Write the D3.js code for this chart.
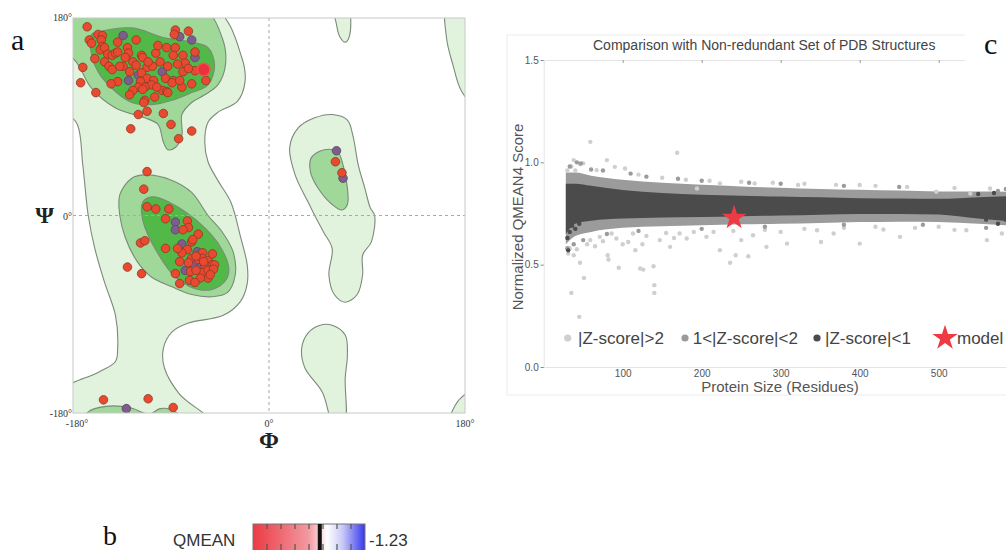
<!DOCTYPE html>
<meta charset="utf-8">
<script src="https://d3js.org/d3.v7.min.js"></script>
<style>
  body { margin: 0; background: #fff; }
  svg { display: block; }
</style>
<svg id="fig" width="1006" height="550"></svg>
<script>

// ---------- panel a : Ramachandran plot (phi, psi in degrees) ----------

// favoured / allowed region outlines
const lightLeft = [[-190,190],[-51,190],[-25,144],[-22,122],[-29,104],[-47,94],[-56,85],[-59,67],[-56,49],[-47,32],[-35,12],[-26,-20],[-20,-45],[-20,-62],[-26,-78],[-42,-91],[-74,-98],[-89,-106],[-97,-121],[-96,-139],[-82,-163],[-52,-190],[-190,-190],[-190,-160],[-157,-143],[-141,-133],[-139,-121],[-141,-91],[-151,-61],[-160,-30],[-166,0],[-171,46],[-176,83],[-190,100]];
const lightAlphaL = [[58,92],[72,87],[77,73],[82,46],[88,25],[93,7],[97,0],[94,-24],[86,-36],[86,-54],[81,-72],[70,-79],[60,-72],[55,-54],[58,-30],[50,-15],[42,0],[36,12],[24,37],[19,62],[27,80],[42,89]];
const lightTopSmall = [[60,192],[72,192],[74,164],[70,158],[65,163],[62,174]];
const lightTopRight = [[164,192],[163,162],[169,137],[177,113],[192,98],[192,192]];
const lightBottom = [[58,-100],[70,-109],[72,-127],[70,-148],[69,-192],[60,-192],[49,-161],[33,-139],[30,-121],[36,-107],[47,-100]];
const lightBottomRight = [[166,-192],[171,-173],[180,-163],[192,-158],[192,-192]];

const midTopLeft = [[-190,190],[-62,190],[-43,162],[-40,137],[-47,119],[-59,110],[-71,103],[-80,92],[-80,73],[-86,62],[-93,60],[-97,67],[-102,83],[-114,89],[-141,98],[-163,116],[-175,137],[-190,158]];
const midMiddle = [[-114,37],[-89,32],[-71,21],[-56,0],[-43,-15],[-33,-33],[-31,-54],[-38,-70],[-52,-74],[-71,-72],[-89,-65],[-108,-56],[-121,-42],[-132,-20],[-137,0],[-137,19],[-126,34]];
const midBottom = [[-172,-192],[-166,-179],[-150,-174],[-128,-175],[-110,-181],[-100,-176],[-90,-177],[-80,-184],[-76,-192]];
const midAlphaL = [[51,60],[63,58],[68,46],[72,25],[72,10],[67,5],[58,10],[45,25],[38,40],[39,53]];

const darkTopLeft = [[-158,167],[-126,171],[-96,162],[-71,158],[-56,153],[-50,137],[-56,119],[-71,112],[-89,105],[-108,101],[-126,103],[-141,113],[-157,131],[-164,153],[-163,165]];
const darkMiddle = [[-107,17],[-75,2],[-45,-28],[-37,-52],[-45,-64],[-62,-68],[-85,-57],[-103,-33],[-116,-4],[-116,12]];

// residues
const residuesGeneral = [[-167,172],[-157,165],[-153,164],[-165,160],[-163,157],[-154,160],[-153,154],[-155,151],[-151,153],[-139,158],[-122,160],[-148,147],[-144,146],[-141,148],[-139,149],[-130,153],[-129,148],[-160,143],[-151,140],[-147,136],[-171,135],[-132,144],[-134,136],[-125,140],[-122,137],[-117,146],[-116,144],[-112,135],[-107,136],[-117,130],[-104,148],[-102,155],[-94,153],[-86,153],[-79,146],[-88,146],[-86,169],[-87,165],[-74,168],[-68,149],[-77,139],[-79,131],[-68,132],[-95,125],[-88,123],[-89,121],[-112,125],[-106,123],[-108,119],[-139,122],[-145,120],[-118,122],[-120,117],[-114,117],[-116,115],[-125,114],[-98,114],[-94,113],[-93,112],[-80,117],[-71,120],[-58,123],[-173,121],[-159,112],[-114,105],[-115,103],[-120,92],[-112,95],[-97,93],[-90,83],[-127,79],[-71,77],[-83,70],[-144,133],[-137,136],[-128,131],[-111,140],[-100,140],[-93,136],[-84,138],[-74,134],[-82,123],[-128,110],[-103,117],[-105,108],
  [-112,40],[-115,24],[-112,8],[-104,6],[-92,6],[-95,-3],[-75,-5],[-74,-11],[-79,-13],[-65,-17],[-71,-24],[-70,-22],[-118,-25],[-114,-23],[-95,-30],[-75,-31],[-80,-34],[-61,-34],[-71,-39],[-65,-40],[-61,-39],[-56,-41],[-52,-35],[-74,-43],[-59,-45],[-52,-45],[-50,-45],[-72,-51],[-61,-52],[-56,-50],[-51,-49],[-130,-47],[-117,-53],[-86,-53],[-73,-59],[-56,-57],[-67,-37],[-60,-42],[-67,-50],[-82,-42],[-84,-30],[-54,-54],[-63,-57],[-68,-61],[-82,-62],
  [-152,-168],[-111,-167],[-88,-175],[61,49],[67,39]];
const residuesGly = [[-134,164],[-82,163],[-71,160],[-68,144],[-98,131],[-120,128],[-129,123],[-86,-6],[-86,-13],[-80,-26],[-66,-33],[-70,-45],[-63,-47],[-77,-50],[-131,-176],[62,59],[68,34]];
const residueHighlight = [[-60,133]];

const angleTicks = [-180, 0, 180];

// ---------- panel b : QMEAN slider ----------
const qmeanTicks = [-5, -4, -3, -2, -1, 0, 1];
const qmeanValue = -1.23;

// ---------- panel c : QMEAN4 vs protein size ----------
const sizeGrid   = [28, 40, 60, 100, 150, 200, 250, 300, 350, 400, 450, 500, 550, 595];
const band2Upper = [0.95, 0.95, 0.935, 0.915, 0.900, 0.890, 0.882, 0.876, 0.870, 0.866, 0.862, 0.858, 0.858, 0.855];
const band1Upper = [0.895, 0.895, 0.885, 0.865, 0.850, 0.842, 0.837, 0.833, 0.829, 0.825, 0.823, 0.822, 0.830, 0.835];
const band1Lower = [0.650, 0.700, 0.715, 0.725, 0.730, 0.733, 0.737, 0.740, 0.744, 0.748, 0.748, 0.745, 0.725, 0.710];
const band2Lower = [0.600, 0.640, 0.660, 0.680, 0.688, 0.693, 0.697, 0.700, 0.704, 0.708, 0.710, 0.708, 0.700, 0.690];

const outliersZ2 = [[59,1.10],[169,1.047],[45,0.245],[35,0.362],[51,0.435],[46,0.509],[140,0.40],[140,0.362],[126,0.476],[122,0.481],[95,0.485],[81,0.546],[82,0.525],[139,0.492],[236,0.509],[243,0.546],[259,0.541],[282,0.587],[400,0.603],[561,0.62],[580,0.652],[351,0.611],[308,0.603],[223,0.571],[160,0.587],[116,0.571],[107,0.611],[71,0.636],[31,0.554],[38,0.546],[400,0.889],[497,0.856],[322,0.889],[267,0.897],[223,0.897],[194,0.872],[90,0.978],[80,1.011],[50,0.995],[67,0.962],[103,0.97],[38,1.011],[46,0.991],[451,0.636],[367,0.652],[265,0.644],[181,0.628],[147,0.62],[346,0.668],[430,0.672],[535,0.668],[540,0.848],[565,0.872],[172,0.652],[206,0.636],[86,0.652],[113,0.652],[59,0.62],
  [55,0.60],[65,0.59],[75,0.615],[92,0.628],[100,0.60],[130,0.64],[155,0.655],[190,0.66],[215,0.66],[240,0.665],[280,0.67],[300,0.66],[330,0.675],[380,0.68],[420,0.685],[470,0.68],[500,0.685],[520,0.67],[33,0.58],[42,0.575],[125,0.60],[165,0.63],[250,0.62],[35,0.98],[40,0.96],[30,0.96],
  [120,0.94],[150,0.925],[180,0.915],[210,0.91],[250,0.905],[290,0.9],[330,0.895],[370,0.89],[420,0.885],[460,0.88],[520,0.875]];
const outliersZ12 = [[33,0.98],[42,1.0],[47,0.995],[60,0.965],[75,0.96],[110,0.945],[130,0.93],[170,0.92],[200,0.91],[260,0.9],[300,0.895],[380,0.885],[450,0.88],[30,0.58],[38,0.6],[50,0.62],[80,0.65],[120,0.665],[200,0.675],[280,0.685],[380,0.695],[480,0.695],[560,0.68],[575,0.86],[585,0.87]];
const outliersZ1 = [[30,0.63],[33,0.66],[36,0.69],[31,0.57],[40,0.675],[45,0.70],[560,0.72],[575,0.70],[585,0.72],[590,0.70],[550,0.845],[570,0.85]];
const modelPoint = [241, 0.729];
const sizeTicks = [100, 200, 300, 400, 500];
const scoreTicks = [0, 0.5, 1.0, 1.5];
const legendItems = ["|Z-score|>2", "1<|Z-score|<2", "|Z-score|<1", "model"];

const svg = d3.select("#fig");
const serif = "'Liberation Serif', 'DejaVu Serif', serif";
const sans = "'Liberation Sans', Arial, sans-serif";

svg.append("rect").attr("width", 1006).attr("height", 550).attr("fill", "#fff");

// ======================= panel a =======================
const phi = d3.scaleLinear().domain([-180, 180]).range([73, 465]);
const psi = d3.scaleLinear().domain([-180, 180]).range([413, 18]);

svg.append("clipPath").attr("id", "clipA")
  .append("rect").attr("x", 73).attr("y", 18).attr("width", 392).attr("height", 395);

const gA = svg.append("g");
const plotA = gA.append("g").attr("clip-path", "url(#clipA)");

const contourLine = d3.line()
  .x(d => phi(d[0]))
  .y(d => psi(d[1]))
  .curve(d3.curveCatmullRomClosed.alpha(0.5));

const regions = [
  { shapes: [lightLeft, lightAlphaL, lightTopSmall, lightTopRight, lightBottom, lightBottomRight], fill: "#e1f3dc" },
  { shapes: [midTopLeft, midMiddle, midBottom, midAlphaL], fill: "#9fd898" },
  { shapes: [darkTopLeft, darkMiddle], fill: "#52b948" }
];

regions.forEach(r => {
  plotA.append("g").selectAll("path")
    .data(r.shapes)
    .join("path")
      .attr("d", contourLine)
      .attr("fill", r.fill)
      .attr("stroke", "#7b8a7a")
      .attr("stroke-width", 1.1);
});

// dashed zero lines
plotA.append("line")
  .attr("x1", phi(0)).attr("x2", phi(0)).attr("y1", psi(180)).attr("y2", psi(-180))
  .attr("stroke", "#a8a8a8").attr("stroke-dasharray", "3,3");
plotA.append("line")
  .attr("x1", phi(-180)).attr("x2", phi(180)).attr("y1", psi(0)).attr("y2", psi(0))
  .attr("stroke", "#a8a8a8").attr("stroke-dasharray", "3,3");

// residues
plotA.append("g").selectAll("circle")
  .data(residuesGly)
  .join("circle")
    .attr("cx", d => phi(d[0]))
    .attr("cy", d => psi(d[1]))
    .attr("r", 4.3)
    .attr("fill", "#7d5c8e")
    .attr("stroke", "#5a4560")
    .attr("stroke-width", 0.8);

plotA.append("g").selectAll("circle")
  .data(residuesGeneral)
  .join("circle")
    .attr("cx", d => phi(d[0]))
    .attr("cy", d => psi(d[1]))
    .attr("r", 4.3)
    .attr("fill", "#e8492f")
    .attr("stroke", "#8a3a28")
    .attr("stroke-width", 0.8);

plotA.append("g").selectAll("circle")
  .data(residueHighlight)
  .join("circle")
    .attr("cx", d => phi(d[0]))
    .attr("cy", d => psi(d[1]))
    .attr("r", 6.3)
    .attr("fill", "#e8323c")
    .attr("stroke", "#ff4a55")
    .attr("stroke-width", 1.5);

gA.append("rect")
  .attr("x", 73).attr("y", 18).attr("width", 392).attr("height", 395)
  .attr("fill", "none").attr("stroke", "#c8c8c8");

// angle labels
gA.selectAll(".phiTick")
  .data(angleTicks)
  .join("text")
    .attr("x", d => phi(d) + (d < 0 ? 4 : 0))
    .attr("y", 427)
    .attr("text-anchor", "middle")
    .style("font-family", serif).style("font-size", "10px").attr("fill", "#333")
    .text(d => d + "°");

gA.selectAll(".psiTick")
  .data(angleTicks)
  .join("text")
    .attr("x", 72)
    .attr("y", d => psi(d) + (d === 180 ? 3 : 4))
    .attr("text-anchor", "end")
    .style("font-family", serif).style("font-size", "10px").attr("fill", "#333")
    .text(d => d + "°");

gA.append("text")
  .attr("x", 54).attr("y", 223)
  .attr("text-anchor", "end")
  .style("font-family", serif).style("font-size", "24px").style("font-weight", "bold").attr("fill", "#222")
  .text("Ψ");

gA.append("text")
  .attr("x", phi(0)).attr("y", 448)
  .attr("text-anchor", "middle")
  .style("font-family", serif).style("font-size", "24px").style("font-weight", "bold").attr("fill", "#222")
  .text("Φ");

gA.append("text")
  .attr("x", 11).attr("y", 50)
  .style("font-family", serif).style("font-size", "30px").attr("fill", "#111")
  .text("a");

// ======================= panel b =======================
const gB = svg.append("g");
const qx = d3.scaleLinear().domain([-6, 2]).range([253, 365]);

const grad = svg.append("defs").append("linearGradient").attr("id", "qmeanGrad");
[[0, "#ec3a44"], [0.5, "#f29aa2"], [0.6, "#f8d4d7"], [0.66, "#ffffff"], [0.8, "#c9c9f8"], [1, "#3636ee"]]
  .forEach(s => grad.append("stop").attr("offset", s[0]).attr("stop-color", s[1]));

gB.append("rect")
  .attr("x", qx(-6)).attr("y", 524).attr("width", qx(2) - qx(-6)).attr("height", 28)
  .attr("fill", "url(#qmeanGrad)").attr("stroke", "#777").attr("stroke-width", 1);

gB.selectAll(".qt")
  .data(qmeanTicks)
  .join("g")
  .each(function(d) {
    const g = d3.select(this);
    g.append("line").attr("x1", qx(d)).attr("x2", qx(d)).attr("y1", 524).attr("y2", 529)
      .attr("stroke", "#555").attr("stroke-width", 1.2);
    g.append("line").attr("x1", qx(d)).attr("x2", qx(d)).attr("y1", 544).attr("y2", 550)
      .attr("stroke", "#555").attr("stroke-width", 1.2);
  });

gB.append("rect")
  .attr("x", qx(qmeanValue) - 2).attr("y", 524).attr("width", 4).attr("height", 28)
  .attr("fill", "#111");

gB.append("text")
  .attr("x", 173).attr("y", 546)
  .style("font-family", sans).style("font-size", "17px").attr("fill", "#333")
  .text("QMEAN");

gB.append("text")
  .attr("x", 369).attr("y", 546)
  .style("font-family", sans).style("font-size", "17px").attr("fill", "#333")
  .text(qmeanValue.toFixed(2));

gB.append("text")
  .attr("x", 103).attr("y", 545)
  .style("font-family", serif).style("font-size", "28px").attr("fill", "#111")
  .text("b");

// ======================= panel c =======================
const gC = svg.append("g");
const xs = d3.scaleLinear().domain([0, 600]).range([543.7, 1017.7]);
const ys = d3.scaleLinear().domain([0, 1.5]).range([367, 60]);

gC.append("rect")
  .attr("x", 507).attr("y", 35).attr("width", 520).attr("height", 360)
  .attr("fill", "#fff").attr("stroke", "#ececec");

svg.append("clipPath").attr("id", "clipC")
  .append("rect").attr("x", 543.7).attr("y", 60).attr("width", 470).attr("height", 307);
const plotC = gC.append("g").attr("clip-path", "url(#clipC)");

const bandRows = sizeGrid.map((s, i) => ({ s, u2: band2Upper[i], u1: band1Upper[i], l1: band1Lower[i], l2: band2Lower[i] }));

plotC.append("path")
  .datum(bandRows)
  .attr("d", d3.area().x(d => xs(d.s)).y0(d => ys(d.l2)).y1(d => ys(d.u2)).curve(d3.curveMonotoneX))
  .attr("fill", "#9b9b9b");

plotC.append("path")
  .datum(bandRows)
  .attr("d", d3.area().x(d => xs(d.s)).y0(d => ys(d.l1)).y1(d => ys(d.u1)).curve(d3.curveMonotoneX))
  .attr("fill", "#4b4b4b");

const dotGroups = [
  { data: outliersZ2, fill: "#cfcfcf" },
  { data: outliersZ12, fill: "#9b9b9b" },
  { data: outliersZ1, fill: "#4b4b4b" }
];
dotGroups.forEach(g => {
  plotC.append("g").selectAll("circle")
    .data(g.data)
    .join("circle")
      .attr("cx", d => xs(d[0]))
      .attr("cy", d => ys(d[1]))
      .attr("r", 2.2)
      .attr("fill", g.fill);
});

const star = d3.symbol().type(d3.symbolStar);
plotC.append("path")
  .attr("d", star.size(190)())
  .attr("transform", `translate(${xs(modelPoint[0])},${ys(modelPoint[1])})`)
  .attr("fill", "#ee3b43");

// axes
const yAxis = gC.append("g")
  .attr("transform", `translate(${xs(0)},0)`)
  .call(d3.axisLeft(ys).tickValues(scoreTicks).tickFormat(d3.format(".1f")).tickSize(3).tickPadding(2));
yAxis.select(".domain").attr("stroke", "#e4e4e4");
yAxis.selectAll(".tick line").attr("stroke", "#888");
yAxis.selectAll("text").style("font-family", sans).style("font-size", "10px").attr("fill", "#555");

const xAxis = gC.append("g")
  .attr("transform", `translate(0,${ys(0)})`)
  .call(d3.axisBottom(xs).tickValues(sizeTicks).tickSize(0).tickPadding(3));
xAxis.select(".domain").attr("stroke", "#e4e4e4");
xAxis.selectAll("text").style("font-family", sans).style("font-size", "10px").attr("fill", "#555");

const topAxis = gC.append("g")
  .attr("transform", `translate(0,${ys(1.5)})`)
  .call(d3.axisBottom(xs).tickValues(sizeTicks).tickSize(3).tickFormat(""));
topAxis.select(".domain").attr("stroke", "#e4e4e4");
topAxis.selectAll(".tick line").attr("stroke", "#999");

gC.append("text")
  .attr("x", 780).attr("y", 392)
  .attr("text-anchor", "middle")
  .style("font-family", sans).style("font-size", "15px").attr("fill", "#555")
  .text("Protein Size (Residues)");

gC.append("text")
  .attr("transform", "translate(523,217) rotate(-90)")
  .attr("text-anchor", "middle")
  .style("font-family", sans).style("font-size", "15px").attr("fill", "#555")
  .text("Normalized QMEAN4 Score");

gC.append("text")
  .attr("x", 593).attr("y", 50)
  .style("font-family", sans).style("font-size", "14px").attr("fill", "#444")
  .text("Comparison with Non-redundant Set of PDB Structures");

// legend
const legendX = [567.7, 685, 817, 945];
const legendText = [578, 692.7, 825, 957];
const legendFill = ["#cfcfcf", "#9b9b9b", "#4b4b4b"];
const lg = gC.append("g");
legendItems.forEach((t, i) => {
  if (i < 3) {
    lg.append("circle").attr("cx", legendX[i]).attr("cy", 338).attr("r", 3.6).attr("fill", legendFill[i]);
  } else {
    lg.append("path").attr("d", star.size(200)())
      .attr("transform", `translate(${legendX[i]},338)`).attr("fill", "#ee3b43");
  }
  lg.append("text")
    .attr("x", legendText[i]).attr("y", 344)
    .style("font-family", sans).style("font-size", "17px").attr("fill", "#444")
    .text(t);
});

// white box holding the panel letter
svg.append("rect").attr("x", 965).attr("y", 28).attr("width", 41).attr("height", 33).attr("fill", "#fff");
svg.append("text")
  .attr("x", 984).attr("y", 54)
  .style("font-family", serif).style("font-size", "30px").attr("fill", "#111")
  .text("c");

</script>
